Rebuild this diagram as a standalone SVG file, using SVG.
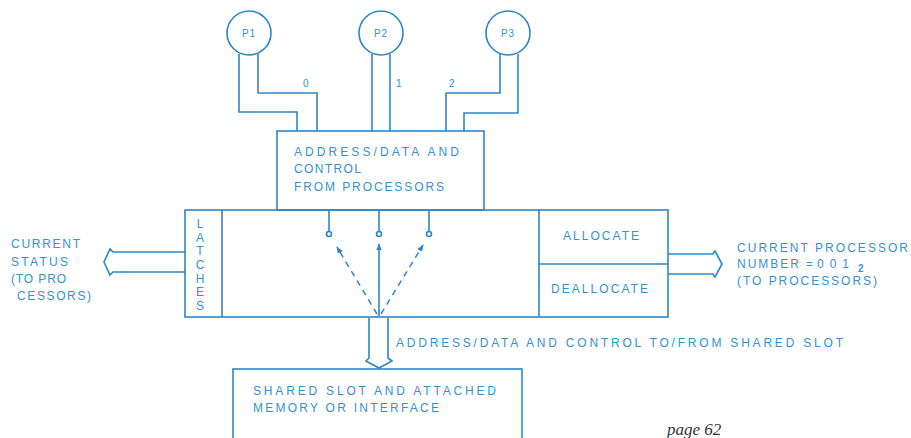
<svg xmlns="http://www.w3.org/2000/svg" width="911" height="438" viewBox="0 0 911 438">
<style>
.ln{fill:none;stroke:#2e86c8;stroke-width:1.6}
.bx{fill:#fff;stroke:#2e86c8;stroke-width:1.6}
.t{font-family:"Liberation Sans",Arial,sans-serif;font-size:12px;fill:#3592d2;letter-spacing:2px}
.s{font-family:"Liberation Sans",Arial,sans-serif;font-size:10px;fill:#3592d2}
.v{font-family:"Liberation Sans",Arial,sans-serif;font-size:12px;fill:#3592d2;text-anchor:middle}
.dash{fill:none;stroke:#2e86c8;stroke-width:1.5;stroke-dasharray:6 5}
</style>
<defs>
<marker id="ah" viewBox="0 0 10 10" refX="9" refY="5" markerWidth="7" markerHeight="7" markerUnits="userSpaceOnUse" orient="auto">
<path d="M0,1 L10,5 L0,9 Z" fill="#2e86c8"/>
</marker>
</defs>
<rect width="911" height="438" fill="#fff"/>
<g id="connectors">
<path class="ln" d="M239,54 L239,112 L297,112 L297,131"/>
<path class="ln" d="M258,54 L258,93 L317,93 L317,131"/>
<path class="ln" d="M372,54 L372,131"/>
<path class="ln" d="M390,54 L390,131"/>
<path class="ln" d="M500,54 L500,93 L446,93 L446,131"/>
<path class="ln" d="M518,54 L518,113 L464,113 L464,131"/>
<path class="bx" d="M185,252 L113,252 L110,249 L104,262 L110,275 L113,272 L185,272"/>
<path class="bx" d="M668,254 L713,254 L715,251 L722,264 L715,277 L713,274 L668,274"/>
<path class="bx" d="M369,318 L369,358 L366,361 L379,368 L392,361 L388,358 L388,318"/>
<path class="ln" d="M329,210 L329,231.5"/>
<path class="ln" d="M379,210 L379,231.5"/>
<path class="ln" d="M429,210 L429,231.5"/>
<circle class="bx" cx="329" cy="234" r="2.5"/>
<circle class="bx" cx="379" cy="234" r="2.5"/>
<circle class="bx" cx="429" cy="234" r="2.5"/>
<line class="ln" x1="379" y1="316" x2="379" y2="244" marker-end="url(#ah)"/>
<line class="dash" x1="377" y1="314" x2="337" y2="247" marker-end="url(#ah)"/>
<line class="dash" x1="381" y1="314" x2="423" y2="245" marker-end="url(#ah)"/>
<text class="s" x="303" y="87" font-size="11">0</text>
<text class="s" x="396" y="87" font-size="11">1</text>
<text class="s" x="449" y="87" font-size="11">2</text>
<text class="t" x="396" y="347" textLength="449" lengthAdjust="spacing">ADDRESS/DATA AND CONTROL TO/FROM SHARED SLOT</text>
</g>
<g id="p1">
<circle class="bx" cx="249" cy="33" r="22"/>
<text class="s" x="249" y="37" text-anchor="middle" letter-spacing="1">P1</text>
</g>
<g id="p2">
<circle class="bx" cx="381" cy="33" r="22"/>
<text class="s" x="381" y="37" text-anchor="middle" letter-spacing="1">P2</text>
</g>
<g id="p3">
<circle class="bx" cx="508" cy="33" r="22"/>
<text class="s" x="508" y="37" text-anchor="middle" letter-spacing="1">P3</text>
</g>
<g id="from-processors">
<rect class="bx" x="277" y="131" width="207" height="79"/>
<text class="t" x="294" y="156" textLength="167" lengthAdjust="spacing">ADDRESS/DATA AND</text>
<text class="t" x="294" y="173" textLength="69" lengthAdjust="spacing">CONTROL</text>
<text class="t" x="294" y="191" textLength="152" lengthAdjust="spacing">FROM PROCESSORS</text>
</g>
<g id="main-unit">
<rect class="ln" x="185" y="210" width="483" height="107"/>
<line class="ln" x1="222" y1="210" x2="222" y2="317"/>
<line class="ln" x1="539" y1="210" x2="539" y2="317"/>
<line class="ln" x1="539" y1="264" x2="668" y2="264"/>
</g>
<g id="latches">
<text class="v" x="200" y="228">L</text>
<text class="v" x="200" y="242">A</text>
<text class="v" x="200" y="255">T</text>
<text class="v" x="200" y="269">C</text>
<text class="v" x="200" y="283">H</text>
<text class="v" x="200" y="296">E</text>
<text class="v" x="200" y="310">S</text>
</g>
<g id="allocate">
<text class="t" x="563" y="240" textLength="78" lengthAdjust="spacing">ALLOCATE</text>
</g>
<g id="deallocate">
<text class="t" x="551" y="293" textLength="99" lengthAdjust="spacing">DEALLOCATE</text>
</g>
<g id="status-label">
<text class="t" x="11" y="248" textLength="71" lengthAdjust="spacing">CURRENT</text>
<text class="t" x="11" y="266" textLength="59" lengthAdjust="spacing">STATUS</text>
<text class="t" x="11" y="283" textLength="57" lengthAdjust="spacing">(TO PRO</text>
<text class="t" x="17" y="300" textLength="76" lengthAdjust="spacing">CESSORS)</text>
</g>
<g id="processor-label">
<text class="t" x="737" y="252" textLength="173" lengthAdjust="spacing">CURRENT PROCESSOR</text>
<text class="t" y="268"><tspan x="737">NUMBER</tspan><tspan x="806">=</tspan><tspan x="817" letter-spacing="6">001</tspan></text>
<text class="s" x="858" y="272" font-size="10" font-weight="bold">2</text>
<text class="t" x="737" y="285" textLength="142" lengthAdjust="spacing">(TO PROCESSORS)</text>
</g>
<g id="shared-slot">
<rect class="bx" x="233" y="369" width="289" height="80"/>
<text class="t" x="253" y="395" textLength="245" lengthAdjust="spacing">SHARED SLOT AND ATTACHED</text>
<text class="t" x="253" y="412" textLength="188" lengthAdjust="spacing">MEMORY OR INTERFACE</text>
</g>
<text x="667" y="435" font-family="'Liberation Serif',serif" font-style="italic" font-size="17" fill="#333">page 62</text>
</svg>
